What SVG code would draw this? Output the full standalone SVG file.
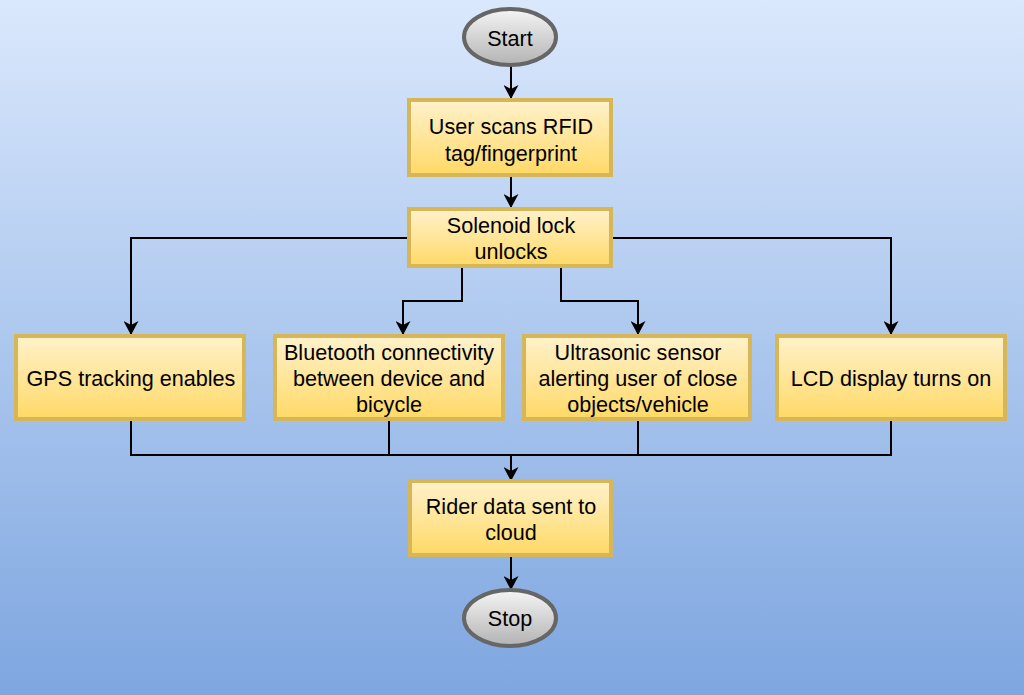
<svg xmlns="http://www.w3.org/2000/svg" width="1024" height="695" viewBox="0 0 1024 695">
<defs>
<linearGradient id="bg" x1="0" y1="0" x2="0" y2="1"><stop offset="0" stop-color="#dae8fc"/><stop offset="1" stop-color="#7ea6e0"/></linearGradient>
<linearGradient id="yl" x1="0" y1="0" x2="0" y2="1"><stop offset="0" stop-color="#fff2cc"/><stop offset="1" stop-color="#ffd966"/></linearGradient>
<linearGradient id="gr" x1="0" y1="0" x2="0" y2="1"><stop offset="0" stop-color="#f5f5f5"/><stop offset="1" stop-color="#b3b3b3"/></linearGradient>
<marker id="ar" viewBox="0 0 14 15" refX="13" refY="7.5" markerWidth="14" markerHeight="15" markerUnits="userSpaceOnUse" orient="auto">
<path d="M0,0 L14,7.5 L0,15 L4,7.5 Z" fill="#000"/>
</marker>
</defs>
<style>
.box{fill:url(#yl);stroke:#d6b656;stroke-width:4}
.term{fill:url(#gr);stroke:#666666;stroke-width:4}
text{font-family:"Liberation Sans",Arial,sans-serif;font-size:21.6px;fill:#000;text-anchor:middle;dominant-baseline:central}
.c{fill:none;stroke:#000;stroke-width:2}
</style>
<rect width="1024" height="695" fill="url(#bg)"/>
<g id="connectors">
<path class="c" d="M511,66 V98" marker-end="url(#ar)"/>
<path class="c" d="M511,176 V207" marker-end="url(#ar)"/>
<path class="c" d="M408,238 H131 V334" marker-end="url(#ar)"/>
<path class="c" d="M462,267 V301 H403 V334" marker-end="url(#ar)"/>
<path class="c" d="M561,267 V301 H638 V334" marker-end="url(#ar)"/>
<path class="c" d="M613,238 H891 V334" marker-end="url(#ar)"/>
<path class="c" d="M131,420 V455 H891 V420"/>
<path class="c" d="M389,420 V455"/>
<path class="c" d="M638,420 V455"/>
<path class="c" d="M511,455 V480" marker-end="url(#ar)"/>
<path class="c" d="M511,556 V589" marker-end="url(#ar)"/>
</g>
<g id="start"><ellipse class="term" cx="510" cy="37" rx="46" ry="28"/><text x="510" y="38">Start</text></g>
<g id="scan"><rect class="box" x="409" y="100" width="202" height="75"/><text x="511" y="126">User scans RFID</text><text x="511" y="153">tag/fingerprint</text></g>
<g id="solenoid"><rect class="box" x="409" y="209" width="202" height="57"/><text x="511" y="225">Solenoid lock</text><text x="511" y="251">unlocks</text></g>
<g id="gps"><rect class="box" x="16" y="336" width="228" height="83"/><text x="131" y="378">GPS tracking enables</text></g>
<g id="bluetooth"><rect class="box" x="275" y="336" width="228" height="83"/><text x="389" y="352">Bluetooth connectivity</text><text x="389" y="378">between device and</text><text x="389" y="404">bicycle</text></g>
<g id="ultrasonic"><rect class="box" x="524" y="336" width="226" height="83"/><text x="638" y="352">Ultrasonic sensor</text><text x="638" y="378">alerting user of close</text><text x="638" y="404">objects/vehicle</text></g>
<g id="lcd"><rect class="box" x="777" y="336" width="228" height="83"/><text x="891" y="378">LCD display turns on</text></g>
<g id="rider"><rect class="box" x="410" y="481" width="201" height="74"/><text x="511" y="506">Rider data sent to</text><text x="511" y="532">cloud</text></g>
<g id="stop"><ellipse class="term" cx="510" cy="618" rx="46" ry="28"/><text x="510" y="618">Stop</text></g>
</svg>
